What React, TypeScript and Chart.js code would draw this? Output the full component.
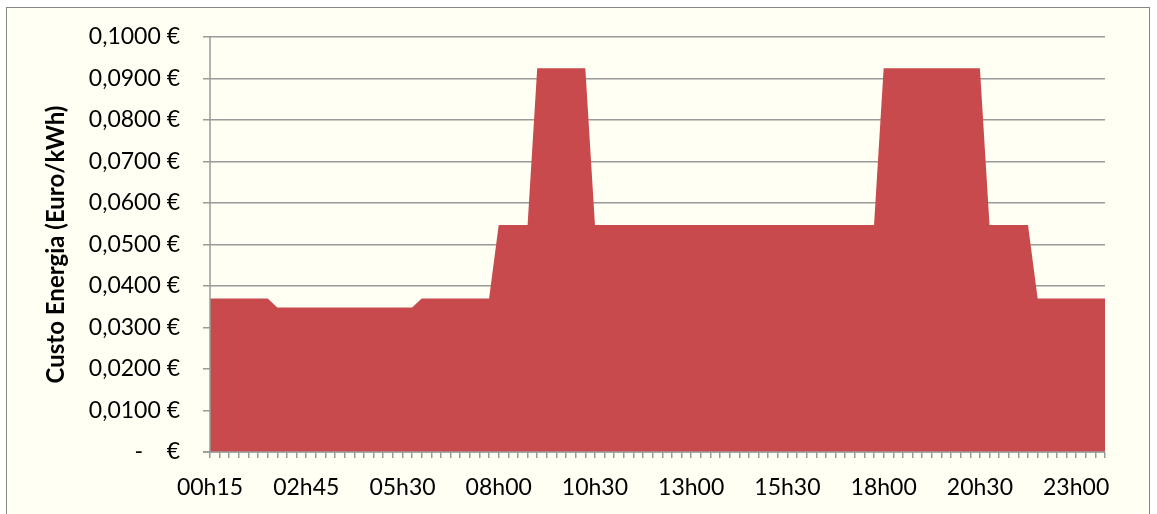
import React, { useEffect, useRef } from "react";
import { Chart, registerables } from "chart.js";

Chart.register(...registerables);

// Quarter-hour time slots (one slot missing in the source data between 02h45 and 05h30)
const timeLabels: string[] = [
  "00h15", "00h30", "00h45", "01h00", "01h15", "01h30", "01h45", "02h00", "02h15", "02h30",
  "02h45", "03h00", "03h15", "03h30", "03h45", "04h15", "04h30", "04h45", "05h00", "05h15",
  "05h30", "05h45", "06h00", "06h15", "06h30", "06h45", "07h00", "07h15", "07h30", "07h45",
  "08h00", "08h15", "08h30", "08h45", "09h00", "09h15", "09h30", "09h45", "10h00", "10h15",
  "10h30", "10h45", "11h00", "11h15", "11h30", "11h45", "12h00", "12h15", "12h30", "12h45",
  "13h00", "13h15", "13h30", "13h45", "14h00", "14h15", "14h30", "14h45", "15h00", "15h15",
  "15h30", "15h45", "16h00", "16h15", "16h30", "16h45", "17h00", "17h15", "17h30", "17h45",
  "18h00", "18h15", "18h30", "18h45", "19h00", "19h15", "19h30", "19h45", "20h00", "20h15",
  "20h30", "20h45", "21h00", "21h15", "21h30", "21h45", "22h00", "22h15", "22h30", "22h45",
  "23h00", "23h15", "23h30", "23h45",
];

// Energy cost per slot (Euro/kWh)
const energyCost: number[] = [
  0.0370, 0.0370, 0.0370, 0.0370, 0.0370, 0.0370, 0.0370, 0.0348, 0.0348, 0.0348,
  0.0348, 0.0348, 0.0348, 0.0348, 0.0348, 0.0348, 0.0348, 0.0348, 0.0348, 0.0348,
  0.0348, 0.0348, 0.0370, 0.0370, 0.0370, 0.0370, 0.0370, 0.0370, 0.0370, 0.0370,
  0.0547, 0.0547, 0.0547, 0.0547, 0.0925, 0.0925, 0.0925, 0.0925, 0.0925, 0.0925,
  0.0547, 0.0547, 0.0547, 0.0547, 0.0547, 0.0547, 0.0547, 0.0547, 0.0547, 0.0547,
  0.0547, 0.0547, 0.0547, 0.0547, 0.0547, 0.0547, 0.0547, 0.0547, 0.0547, 0.0547,
  0.0547, 0.0547, 0.0547, 0.0547, 0.0547, 0.0547, 0.0547, 0.0547, 0.0547, 0.0547,
  0.0925, 0.0925, 0.0925, 0.0925, 0.0925, 0.0925, 0.0925, 0.0925, 0.0925, 0.0925,
  0.0925, 0.0547, 0.0547, 0.0547, 0.0547, 0.0547, 0.0370, 0.0370, 0.0370, 0.0370,
  0.0370, 0.0370, 0.0370, 0.0370,
];

const yAxisTitle = "Custo Energia (Euro/kWh)";
const yMin = 0;
const yMax = 0.1;
const yStep = 0.01;
const xLabelEvery = 10;

const GRID = "#9a9a9a";
const FONT = "Lato, 'Open Sans', sans-serif";

const axisLinesPlugin = {
  id: "axisLines",
  afterDatasetsDraw(chart: any) {
    const { ctx, chartArea } = chart;
    ctx.save();
    ctx.strokeStyle = GRID;
    ctx.lineWidth = 1.5;
    ctx.beginPath();
    ctx.moveTo(chartArea.left, chartArea.top);
    ctx.lineTo(chartArea.left, chartArea.bottom);
    ctx.moveTo(chartArea.left - 7, chartArea.bottom);
    ctx.lineTo(chartArea.right, chartArea.bottom);
    ctx.stroke();
    ctx.restore();
  },
};

export default function App() {
  const canvasRef = useRef<HTMLCanvasElement>(null);

  useEffect(() => {
    if (!canvasRef.current) return;
    const chart = new Chart(canvasRef.current, {
      type: "line",
      data: {
        labels: timeLabels,
        datasets: [
          {
            data: energyCost,
            fill: "origin",
            backgroundColor: "#C94A4C",
            borderWidth: 0,
            borderColor: "#C94A4C",
            pointRadius: 0,
            tension: 0,
          },
        ],
      },
      options: {
        responsive: false,
        animation: false,
        layout: { padding: { left: 0, top: 37, right: 52, bottom: 0 } },
        plugins: {
          legend: { display: false },
          tooltip: { enabled: false },
        },
        scales: {
          x: {
            type: "category",
            offset: false,
            afterFit: (s: any) => {
              s.height = 62;
            },
            border: { display: false },
            grid: {
              drawOnChartArea: false,
              drawTicks: true,
              tickLength: 6,
              color: GRID,
              lineWidth: 1.5,
            },
            ticks: {
              autoSkip: false,
              maxRotation: 0,
              minRotation: 0,
              padding: 16,
              color: "#000",
              font: { family: FONT, size: 23 },
              callback: (_v: any, i: number) => (i % xLabelEvery === 0 ? timeLabels[i] : ""),
            },
          },
          y: {
            min: yMin,
            max: yMax,
            afterFit: (s: any) => {
              s.width = 210;
            },
            border: { display: false },
            grid: {
              color: GRID,
              lineWidth: 1.5,
              drawTicks: true,
              tickLength: 7,
            },
            ticks: {
              stepSize: yStep,
              padding: 23,
              color: "#000",
              font: { family: FONT, size: 23 },
              callback: (v: any) => {
                const n = Number(v);
                if (Math.abs(n) < 1e-9) return "-    €";
                return n.toFixed(4).replace(".", ",") + " €";
              },
            },
            title: {
              display: true,
              text: yAxisTitle,
              color: "#000",
              font: { family: FONT, size: 24, weight: "bold" },
              padding: { top: 42, bottom: 0 },
            },
          },
        },
      },
      plugins: [axisLinesPlugin],
    });
    return () => chart.destroy();
  }, []);

  return (
    <div
      style={{
        position: "fixed",
        left: 0,
        top: 0,
        width: 1157,
        height: 514,
        background: "#ffffff",
        overflow: "hidden",
      }}
    >
      <div
        style={{
          position: "absolute",
          left: 6,
          top: 7,
          width: 1144,
          height: 600,
          border: "1px solid #868686",
          background: "#FFFFF3",
          boxSizing: "border-box",
        }}
      />
      <canvas
        ref={canvasRef}
        width={1157}
        height={514}
        style={{ position: "absolute", left: 0, top: 0 }}
      />
    </div>
  );
}
